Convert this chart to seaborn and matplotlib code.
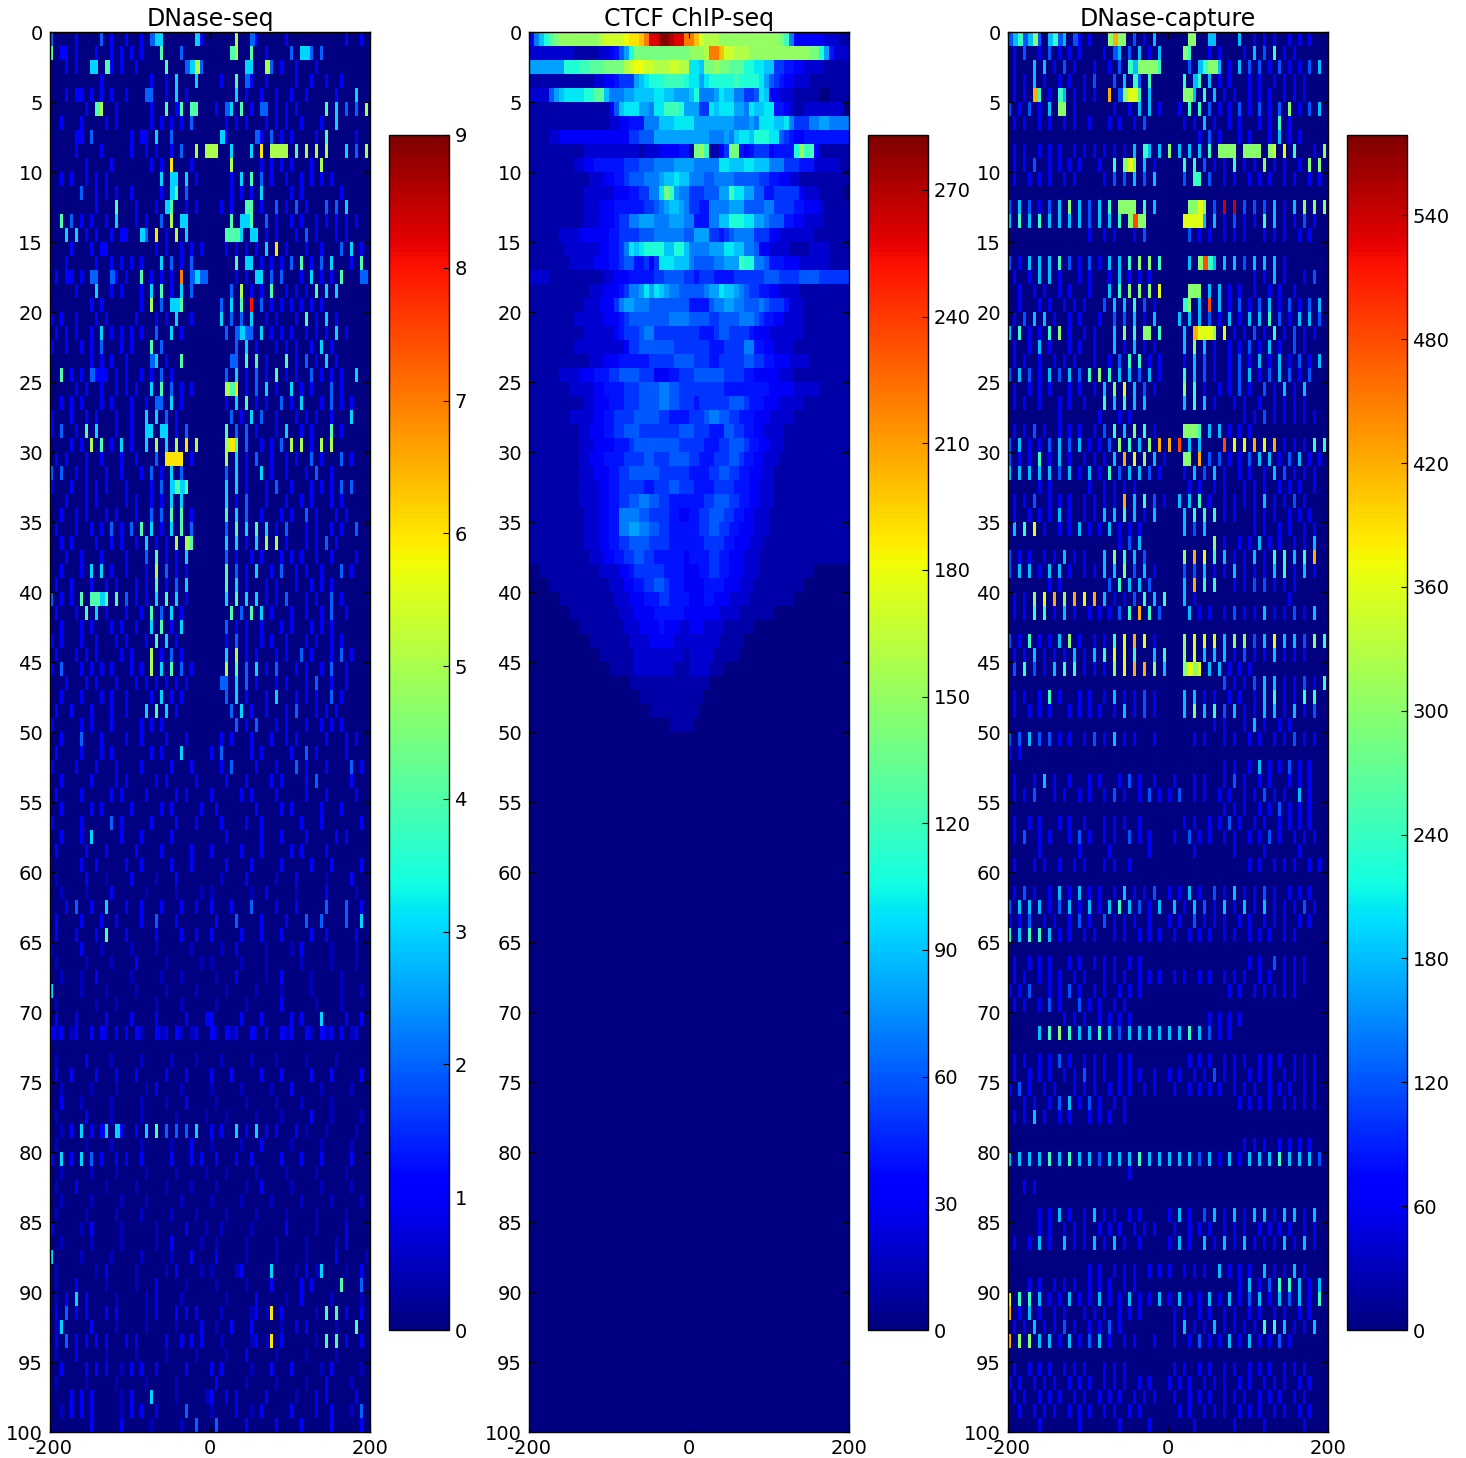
import numpy as np
import pandas as pd
import seaborn as sns
import matplotlib
matplotlib.use('Agg')
import matplotlib.pyplot as plt

titles = ['DNase-seq', 'CTCF ChIP-seq', 'DNase-capture']
vmaxes = [9, 283, 579]
cbar_ticks = [list(range(0, 10)), list(range(0, 271, 30)), list(range(0, 541, 60))]

# each row: left half / right half of the +-200 window, value read by eye per bin
# . = 0, : = half a unit, digits = units
dnase_seq = [
"2....1....2.1..1..1.233......31. .....5..21.....1...........1..1.",
"4.11.1...1..1.1.1.1...4...2..... ....45..4..1....2.332.2.........",
"...1.1..33.41.1..1.....4...2352. .......33..52.1..1...1..........",
"..........1.........1..1.3...3.. ..1..4.21..1.....1..1..1..1.....",
"...1.11.1.1.1..1...22..1.3.1.... .....3.1..1..1..1..1.....1...3..",
".......1.45..1......1..4.14.44.. .1.23.4.1.22.1.1.1.....4.3.2.2.52",
"..1...1....1.1......1.1.1.1.2... ...1.1.1...1.1.1..1...1..3......",
".....11.2.......1.11.3..2....... ..31.....21.2.1.1....1.4.....1..",
".....1....1.....1..1.1..1.2..5.5 55..3...3.6.5555.4.5.5.5...3.2.5",
".......1....1.......1.1.6...1... ....5.....1.1.1.1...1.5.........",
"..1.1..1.1.1..........3.33.3.1.. ....1.3.4.2.1..1..1.1.1.1.......",
"......2..1.1.1..1.....1.34.2.... ....1.1.1.3.....1.1.......1.....",
".........1...4...1...1.34..1.1.. ..1.1..44.1..2.1.2.1...2.2.3....",
"..4.2.1.1..1.3...1.1..2.5.33.... ....4.334..2.1..1.1..1.1.1.1.1..",
"...3.3.1.1..1.11..32.6.1.5.3.... ...4443.33.1.1...1.2.1...1.1....",
"....1...1.11.........1.1..1.1.1. ...1.1.1.1.3.6.1...1..1...2.3.1.",
"...1.....1..1.1.1.1...3.2.1.2... .....4.33.1.1.1.2.4.1.2.3...1.4.",
".1.11.1.22..21.1..4.1.1.1.7.2322 .....1.1.33.2.2...1.3.1.1.4...22",
".....1...3..1.1...1.3.4.1.3.2... ....2.5.1.1.4..1.1.1.4.3.3......",
"........1.1.......1.5.2.334..... ..2.3.4.8.2.1.1.1.1.1.1.........",
"1.1..1...1.1.....1...1.1.3..1... ..3.2.2.3..1.1...1.4.1.3.1......",
".1.1.1..1.3.1.1.1.1..2..3.1..... ...2.2322.3.1.1.1..1.1.1.3.1....",
"1..1..1.1.2...1.1...4.2......... .....2.3.1...1.1.1..1.3.1.......",
"........1.1.1..1....23.1..4..... ....22.4.4.1...4.1.2.1.3.1......",
"..4.1.1.2111.1.1..1.1.2.1....... ...2.3.1.2.1.4.1.1..2.1.1.1..3..",
".....1.1..1..1.1.1..3.4.2.1.1... ...546.1.2.3.1..3.1.1...2.1.....",
"..1.1.1...1.1...1..1.22.3.1..... ...1.3.4.1.1..2.1.3...1.2.1.1...",
"1...1..1.1...1..1..3.3.2.1...... ....2.1.3.2..1...1.1.1..1...3...",
"1.2..1.4.3...1..1..33.33.1.2.... ...4.2.2.1...1.3..1.1...4.1.....",
"....1.1.5.4.1.3.1..3.5.3.5.6.5.. ...564.2..1.1.2.5.5.1.5.5.......",
".1.1...1..1...1..1...2.6666.1... ...5.3.1.2..1..1.1..2.1...2.1...",
"2.2..1.1...1..1...1.2.1.3.2..... ...2.3.1..3.1..1...1.2..1.......",
"1...1..1.1.1...1....1.2.3434.... ...3.3.1...1.2..1...1.1.1.2.2...",
"...1...1.1.....1.1..1.1.3.3..... ...3.1.2...1...1..1.1...1.1.....",
"..1..1.1...1.1...1..2.2.4.4.1... ...4.3.2..1...1.1..2.1...1.1....",
".1...1..1.1.2.1.2.4.3.1.3.4.2... ...2.4.3.4.3.1.2...1.1..1.1..2..",
"..1.1....1..1.1..1.3.1.1.5.54... ...3.3.1.3.5.5.1...1.1.2.1......",
"...1..1...1....1...2.4.1.1.3.... ...2.1..1.1...1.1.1..1..1....1..",
"..1...1.3.3.1..1...1.5.2.1.1.... ...4.2.1.3..1.2..1.1..1...2.1...",
".1..1...1..1.1...1.1.4.1.2.3.... ...4.3.1...1.1...1..1.1.1.......",
"2.1.1.4.4434.4.2.1.1.3.4.3.1.... ...3.4.3.3.1.1.2...1.1..2.1.....",
".1...1.4.3.1...1..1.4.2.3.1..... ....4.2.4.3.1...1..1..1.2..1....",
"..1...1.1...1.1..1..3.4.1.3..... ...2.1.1..1...1.1...1.1.1.......",
"1.1...1..1...1.1...1.4.3.1...... ...1.2.1..1.1..1...1.1..1.1.....",
".1...1.1.1....1.1...5.1.2.1..... ...3.5.1.1...1.1..2.1...1.2.1...",
"1.2...1.1.1.1...1.1.5.3.4.2.1... ...5.4.2.3.1.2...1.1..1.2..1....",
"...1...1.1...1...1.1.1.1.1.1.... ..22.3.2.1...1.1...1.2..1..1....",
"..1...1...1.1..1....1.3.1.1..... ...2.3.1...1.3...1.1.1..2.1.....",
".1..1...1...1..1...3.4.3.1...... ....2.3.1..1...1.2...1.1.1......",
"1.....1.1...1.....1.1.1......... .....2.1.2...1.1...1..1.1.1.....",
"..1...2...1....1..1....1...1.... ..1.1...1...1..1.1.....1...1.1..",
".1....1...1.1.......1.1...3..... 1.2.....1.1.....1..2.1.....1....",
"1....1...1...1....1.....1...1... ..1.2....1...1...2.1...1....2.1.",
"..1.....1....1.1.....1.1.....1.. ...1...1....1.1....1.2......1...",
".1....1.....1.1....1.....1.1.... 1.....1.1....1.....1...1.....1..",
"..1.....1.1.....1.....1.1.....1. .1.......1....1.1.....1...1.....",
"1.....1.....2.1.....1....1...1.. ..1....1..1.......1...1.......1.",
"..1...1.3.....1...1.....1....... ...1......1...1....1.....1.1....",
".1.....1...1.....1....1.....1... 1.....1...1.....1.1....1........",
"......1..1.....1..1.....1...1... ...1....1.....1.....1...1.....1.",
".:.....1...:....1....:...1...... ..:....1.....:...1.....:....1...",
"..:....:....1......:.....:....:. :.......:..1.....:.....1.....:..",
"...1.2..1..3...1..1...1...1..1.. 1...1...2....1...1.....2...2..1.",
".1....1...1..1....1..2...1...... .1...2....1....1...2..2....2..3.",
".1...1...1.4...1.....1....1..1.. 1.....1...1...1.....1..1.....1..",
":.....1...:.....:....:......:... ..:..1.....:....:.1.....:....:..",
".:.....:....:....1.....:......:. :.....:....:......:.....:....:..",
"..:...:..1......:.....:...:..... .:...1.....:..1.....:.....:.....",
"3.....:....:.....:.....:.....:.. ...:.....:....:.....:.....:...:.",
".:.......:...:.......:....:..... .:.....:......1......:....:.....",
".1...1.....1....1....1.....1...1 1.....1...1.....1.1...3....1..1.",
"1:1.:1..1.1:.1.1.1:..1:1.1:.:1.. 1:.1:1..1:.1..1:1..1:.1:1.1.:1..",
"................................ ................................",
".:.....1....:.....:.....:....:.. ..:.....:....:.....:.....:......",
".1..1....1...1...1.....1...1.... 1...1.....1...1.....1...1.....1.",
"..:.....:....:.....:.1....:..... :.....:.....:...1.....:.....:...",
"..1...:.....:.....:....:...1.... .:.....:.....:....:.....:.......",
".:.....1....:.....:......:.....: ...:.....:....:.....1...:.....:.",
"..:.1.3.1.13.31..1.3.4.2.2.2.3.. 1.1..3.1.3.1.1...1.:...:.....:..",
".:.....:....:.....:.....:...1... :.....:...1.....:.....:.....:...",
"1.3.1.3.2.1..1.1..1.....1...1.1. .1...1..1.....1...1...1.....1...",
"..:.....:....:.....:.....:.....: ...:.....:.....:.....:.....:....",
".:...1.....:.....:.....:....:... .:.....:..1.....:.....:.....:...",
"..:.....:.....:....:......:..... :.....:.....:.....:.....:.....:.",
".:.....:.....:....:.....:....:.. ...:.....:.....:.....:.....:....",
"1.....:.1.....:......:.....1...: ..:.....:......1.....:.....1....",
"..:.....:.....:......:..1.....:. .:.....:.....:.....:.....:.1....",
"3.....:.....:.....:.....:...1... .1.....:.....:.....:.....1.....:",
".:.......:.1.....:.....:.1....:. :....:1.....3....:.1.:3....:..1.",
".:...1.....:.....:...1.....:.... .:.....:....1.....1.1.....4...2.",
".:.1.3.1.....:.....:.1....:..... ...:.....1.....:..1.....:.....:.",
".1.2.1.1...1.1.....:.1...1.1.1.. ..:.....:1.:6.1......:.4.4.1..1.",
".:3.....1....:.....:.....:....1. .:..1...1.....:..1.1.....:...4..",
".1.2.1.1.1.1...1.1.....1..1.1.1. ..:.....:1.:6.1......:.4.4.1..1.",
".:...1.....:.....:.....:.....:.. ...:...1.....:.....:.....:......",
"..1....1.1.1..:.1.1..1.....1.... 1.1.....:...1...1.....:.1.....:.",
".:.....:.....:.....:.....:...... .1.....:.....:.....:...1....:...",
"....1.1.1.....:.1...3....:.....: 1..1.1.....1.....:...1.1.....1..",
"..:.1.1.1.....:.1.1..1.....2.... :....1..:.1.....1....1..1...:.2.",
"........1.....1.....:.....:..2.. .2.....1.....1....1.....1.....1.",
]

# tens of counts, base 36 (0-9, a-s), left half runs out to the centre, right half from the centre
ctcf_chip = [
"379bdeffffffffghhhhijjkmqqssrqqm mkhgggffffffffffffec733333322211",
"22222222211111223468beeeeeeeeeee fffgmmkhhgggffffffffffffeeb84222",
"8888888bbbccdddeeeeghiihhggghhgg aa9eefeedddbbaa99554433222211111",
"11111111111112233455589abbbccccb aa8abbbbbcbbbba86543322211111111",
"2222689aaaabbdd9777889999aa99888 9b7778a9977556a93322211111001111",
"1111111111111111369aaa887aacccb8 8855a9aaa887a99aa44321122222222",
"11111111111111112233444777999aaa a8888888877787aaa99a755577887777",
"11112233333333333333556668888888 8888777879aa9bbbaa65433444444444",
"11111111111222222222221222333344 1efc1135ee43455534444bfcc3111111",
"11111111122334444445556667777888 877777aa999aa9997775554442222211",
"11111111111122233445666777899a99 77766777766666554433221111111111",
"11111111111222222333445577aec877 55566688caa88664455555322211111",
"11111111111222333444444556789987 55447777888666677555544333211111",
"11111111111222333455778887778887 74447799bbbaa8876664433222211111",
"11111122223333334455556667777776 68885545677775553322222221111111",
"11111112222222334457a9abbbb99bb9 7777888aa99776332222111122221111",
"11111111222223334456644535aaa999 7666677888cbb7764443332222221111",
"22221111111111122333444445566665 54555444455555566655556666555555",
"11111111111122233345778a8a987766 666788a9987655443322221111111111",
"11111111111222333578877766666666 44446778877666765554222111111111",
"11111111122222233345666666667777 66665566667776544332222111111111",
"11111111111222222345556775555555 55444566555543332222222111111111",
"11111111122222222223556666666555 55554445555774433222211111111111",
"11111111111122233344444455555666 65554455555665544333222211111111",
"11111122223334445566665553334455 56666665555443333322211111111111",
"11111111222223344445556666776655 55555554444444443333322222111111",
"11111111111223334445556666776655 54555555666544433322222111111111",
"11111111222223344555566666554444 55567766554443332222211111111111",
"11111111112233344556665555555566 65554446655443322221111111111111",
"11111111112223333444566666666655 55544455666544332221111111111111",
"11111111112233344445555665556666 55444555665443322211111111111111",
"11111111112223334455666666555555 44445566554433322111111111111111",
"11111111112222334455555445556655 54444555544433222111111111111111",
"11111111112222334455667766554444 44455666554433222111111111111111",
"11111111111222334477776655554433 44556665544332221111111111111111",
"11111111111222334477887766554444 44556655443332221111111111111111",
"11111111111222334455666655554444 44455554433322211111111111111111",
"11111111111122233445566554444443 44445544333222111111111111111111",
"111111111111222233455555544443 3344554433322211111111111",
"1111111111112223344556654443 33344443332221111111111",
"11111111111222333444554444 333443332222111111111",
"111111111122233334444443 33333322221111111",
"1111111112223333433322 3332222111111",
"11111111222233333222 22222211111",
"111111122222222221 2222211111",
"1111122222222111 2222111",
"111111111111 1111",
"1111111111 111",
"11111111 11",
"1111 1",
]

dnase_capture = [
"2342352.3423.21.1...5755.2.1.3.. ....55..33....3..1.1.1..1.1.1.",
".1.2..1.2.1.1.1....1.23.2.3.1.3. ...54...1.1....1.3.2.4.1.1.....",
".1...3.3.1.2.1...1..1.2.4355554. ....2.34553.1.3.2.2.1.2.1.1.2.3",
".1.1.3.1..1.1..1.2...2.3.42.4... ...4.34.3.1.1...1.1..1.1.1.1...",
".1.1.74.1.43.1.1.1..7.25664.3.. ...553.4.3.1.1..1.1.1..1.1.1..",
"2.1.2.1.3.55.1.......1..1.3.3.1. ..1.4.4.2.1.1.2.1.2.1.2.5.1.2.3",
".1.1..1.1..1.1..1...1.1..1.2.... ...1.1.3.1..1.1...1.1.4.1.......",
"................................ ......1.2.1...1.1...1.3.1.1.....",
".1.1..1.1.1..1.1.1.1.1.1.3.43.3. 5.3.3.3.4.5555.5555.56.6.4...1.55",
".1.1.2..1.1.1.1...1..4.565.3.1.. ...4.4.2.1.1.4.1.1.5.1.1..1.5.5",
".1..1.1.1..1.1.....1.2.2.3.2.3.. ...2.44.2..1.1..1.1.1..1.1..1.1",
"................................ ................................",
"2.3.2.1.2.3.5.3.2.3.4.5555.4.3.. ....5565.2.9.9.2.2.2.3.1.3.5.5.5",
"3.4.3.4.3.3.3.3.2.3.3.4.5855.... ...66663.3.1.2.1.1.4.3.1.1.2.1.",
"................1..1.1...1.2.... ....2.1.1..1.1.1...1.1.1..1.1..",
"................................ ................................",
"2.1.3.3.3.4.2.1.2.1.3.3.4.5.5.4. ....3.5843.3.3.2.3.3.3.1.......",
".1..1.3.3.1...1.1...1.3.1.1.1... .................1.1.3.1...1.2.",
"..1..1.1..1.1...1...3.4.5.5.5.6. ....555.3.3.1.1..1..1.1..1......",
"..1...1.1..1.1.1...2.3.3.4.2.1.. ...45.3.8.3.1.2.1.2.3.1.2.1.2.3.",
".1.2.3.3.1..1.1...1..2.2.3.1.3.. ..3.3.3.2.1.3.1.3.3.4.2.1.3.3.2.",
"3.4.1.1.4.5.1..1.1...3.5.4.55.4. ...3.76665.6.1.1.2.1.4.1.2.1.1.",
".1..1.3.1...1.1..1...3.1.3.1.1.. ...3.5.3.1..1.1.2.1.3.1..2.1...",
".1.1..1..1.1.1...1..1.2.4.4.1.1. ...1.3.2.1..1.2.1.3.1.3.1.2.1.3.",
"2.3.2.1.3.2.3.2.4.5.4.3.3.2.3.1. ...4.3.2.1..1.2.3.1.2.3.2.1.2..",
".1..1.1.1...1.1..1.3.5.6.3.2.1.. ...5.4.1..1.1.2.1..2.1.3.1.3...",
".1.1..1...1.1..1...4.3.4.3.3.... ...3.4.3.1...1.1..1..1.1.1.1...",
"..........1.......1...1.1....... ...............1.1.2.1.1.1.1.1.",
".1.1.2.1..1.1.1..1.2.4.3.5.4.1.. ...5554.3.3.1.1.1.............",
"2.3.1.1.2.3.2.3.1.1.2.5.4.3.5.7. 7.8.3.3....8.6.6.7.6.7.1.1.1.4.4",
"2.1.1.4.1.3.1..1.1.1.3.7.6.5.3.1 ...55.7.2.2.1.1.2.3.3.1.2.3.1.1",
"3.3.3.3.3.2.3.1.3.1.4.2.3.3.2.1. ...1.3.2.3.1..1.1..1.3.2.1.1.1.",
"......1.1.......1..1.1.1.1...... ....1.1..1.1...1.1.1..1.1.1..1",
".1.1.2..1.1.1..1.1.1.1.7.3.4.2.1 ..3.3.4.1..1.1.1.1.3.1.1.2.1...",
".1..1.1.1.3.1..1.1.3.3.4.3.1.3.. ...3.4.4.4.1.1...1.1.1..1.1.1..",
".3.4.6.1..1.1.3.1.1.3.1.1.1..... ...3.2.3.........1.1..1.1..1.1.",
"......................1.2.3..... .........5.1..1.1.3.1.1..1.1.3.",
"2.1.1..1.1.3.1.1...3.5.4.3.2.... ...5.7.6.4.3.1.1.3.1.4.4.3.4.7.",
"2.3.3.1.3.3.1..1.1.3.3.5.2.3.1.. ...2.2.3.1.1.3.1.1.1.3.4.1.3.1.",
"........1.1.........2.4.3.3.2... ...3.7.4.4...1.1.2.2.1.1.1.....",
".1.1.5.6.7.5.7.6.7.3.1.1.2.4.3.4 ...3.1..................1......",
".1.1.4.4.1.3.1..1.1.1.2.4.7.4.2. ....3.1.1..1.2.1.1.3.1.1.2.1.3",
"................................ ................................",
"2.1.4.1.1.3.5.1..1.1.4.6.7.6.1.. ...5.6.6.6.3.5.5.2.3.6.3.3.2.5.4",
".1.1.3.1.1.1.3.1.3.4.6.6.4...3.4 ...5.6.3.3.3.1.2.1.1.3.1.1.1...",
".2.4.2.1.3.4.4.1.1.1.5.6.7.7.5.3 ...5656.3.3.1.1.1.............",
"................................ ...........2.1.1.2.3.3.1.1.2.1.4",
".1.1..1.4.1...1.1..1.3.1.1.2.1.. ...3.3.1.1..1.1..1.3.4.1.1.4.4.",
".1..1.1.1...1.1.1.1..1.3.1.2.1.. ...3.5.3.4.2.3.1.1.3.3.1.3.1.2.",
"................................ .........1.1...1.3.1..1.1.......",
"2.2.3.2.2.1.1..1.2.1.3.1.1...1.. .....1.1...1.1..1.1..1.1.2.1.1.",
"1.1............................. ................................",
"................................ ...........1.1..1.3.1.1.2.1.1.",
".1...1.3.1..1...1.1...1.2.1..1.. .1...1.1...1.2.1..1.1...1.1.1.",
".1.1.2...1.1..1.1..1.2.1..1.2.1. 1.2..1.1..1.1..1.1.2.1.1..3.1.",
"................................ ...........1.1.1..1.1.2.1.1.1.",
".1..1.1...1.1..1...1.1.1..1.... ...1.1..1.1.2.1..1.1..1.1.1.1..",
".1.2..1.1...1.2.1..1.1..2.1.1... .1..2.1.1..1.1..1.1.2.1..1.1.1.",
"......1.......1.....1.......1... .....1.......1.....1......1.....",
".1...1.1..1..1.1...1.1..1....... ................1.1..1.1.1..1.1.",
"................................ ................................",
".1.2.1..1.3.1.3.1.1..1.3.1.1.2.. 1.1.3.1..2.1.3.1.1.2.1..1.1.1..",
"2.3.3.3.1.2.3.1.3.1.3.4.3.2.1.3. .3.1.3.2.1.3.1.3.1.3.1.1.1.2.1.",
"1.1.2..1.1..1.2.1..2.1.1.1..1... 1.1..2.1.1.1..1.1..1.1.1..1.1.",
"4.3.4.4.3.1.1..1.1...1.1..1.1.1. .1..1.1.1..1.1..1.1.1..1.1...",
"................................ ................................",
".1..1.1.1...1.1..1.1.1..1.1..... ................1.1..2.1.1.1...",
".1.1..1.1.1..1.1...1.1.1..1.1.1. .1.1..1.1..1.1.1..1.1..1.1.1...",
"1.1.2...1.1.2.1..1.1..1.1.1..... ............1.1..1.1.1.1.1.....",
".1.1..1.2.1...2.1.1..1.1........ ................................",
"...........1.1.1..1.1.1.1....... ........1.1.1.1.................",
"......3.4.5.4.3.3.4.3.2.3.3.3.3. 3.3.4.3.2.1.1...................",
"................................ ................................",
".1.1..1.1.2.1..1.1.1..1.1....... ....1.1.1..1.1.1..1.1.1..1.1.1.",
".1..1.1.1..1.1.2.1.1..1.1.1..1.. 1.1..1.1.2.1.1..1.1.1..1.1.1.1.",
"1.2.1..1.1...1.1.1..1.1.1..1.1.. .1..1.1.1.1..1.1.1..1.1.1..1.1.",
"...1.1..1.2.3.1.2.1..1.1........ ..............1.1.1.1..1.1.1.1.",
".1.1.3.1..1.1...1.1.1..1........ ................................",
"................................ ................................",
"................................ ...............1.1.1..1.1.1.1.",
"3.3.3.3.4.3.4.3.3.2.3.3.3.4.3.3. 3.3.3.2.3.1.3.1.3.3.3.4.3.3.3.2.",
"........................1....... ................................",
"...1.1.......................... ................................",
"................................ ................................",
"......1.1.3.1..1.3.1.1..1.1..... 1.3.1..2.3.1.3.1.3.3.1.3.3.1.3.",
"......1.1..1.1.1..1.1.1..1.1.1.. .1..1.1.1..1.1.1..1.1.1.1..1.1.",
".1..1.3.1..3.1.1.3.1.3.1..1..... 1.3.1..3.1.3.1.3.1.1.1.3.1.3.1.",
"................................ ................................",
"................1.1..1.1.1..1.1. 1..1.1.1..3.1.1.1..3.1.1.3.1...",
"....1.1..1.1.1..1.1.1..1.1...... ..............1.3.1.2.4.4.3.1.3.",
"6.4.4.3.1.1.3.1.1.3.1.1.3.1.1.3. 1.3.1.1.3.1.3.1.2.3.1.3.2.3.1.4",
"7.1.3.1..1.1...1.1.1..1.1.1..... .1.1..1.1..1.1..1.1..1.1..1.1..",
".1.1.3.1.1.2.1..1.1.2.1......... .1.3.1.1.3.1.1.1.1.4.4.3.1.1.3.",
"7.5.5.3.3.1.3.1.2.3.1..1.1...1.. .1..1.2.1.1.3.1.3.1.1.2.1......",
"................................ ................................",
".1..1.1.1..1.1.1...1.1.1........ .1.1..1.1..1.1..1.1.1..1.1.1...",
"1.1..1.1.1..1.1.1..1.1.1..1.1... 1.1.1..1.1.1..1.1..1.1.1..1.1.",
".1.1..1.1.1..1.1..1.1.1..1.1.1.. .1..1.1.1..1.1.1..1.1.1..1.1...",
"..1..1.1.1..1.1.1..1.1..1.1..... ..1.1..1.1.1..1.1.1..1.1..1.1..",
"......1.......1.......1.....1... .....1.......1.....1.......1....",
]

unit_seq = 1.0
unit_ctcf = 10.0
unit_cap = 60.0


def parse_digits(rows, unit):
    # bins are wider than the real stripes, so a lone value only fills half of its bin
    out = []
    for r in rows:
        left, right = r.split()
        row = left.ljust(32, '.')[:32] + right.ljust(32, '.')[:32]
        vals = [0.5 * unit if c == ':' else (0.0 if c == '.' else int(c) * unit) for c in row]
        fine = []
        for i, v in enumerate(vals):
            nxt = vals[i + 1] if i + 1 < len(vals) else 0.0
            fine += [v, v if nxt > 0 else 0.0]
        out.append(fine)
    return pd.DataFrame(out)


def parse_base36(rows, unit):
    out = []
    for r in rows:
        left, right = r.split()
        left = left.rjust(32, '0')[-32:]
        right = right.ljust(32, '0')[:32]
        out.append([int(c, 36) * unit for c in left + right])
    out += [[0.0] * 64 for _ in range(100 - len(out))]
    return pd.DataFrame(out)


plt.rcParams['font.family'] = 'DejaVu Sans'
fig = plt.figure(figsize=(14.66, 14.58), dpi=100)
W, H = 1466.0, 1458.0
panels = [parse_digits(dnase_seq, unit_seq), parse_base36(ctcf_chip, unit_ctcf), parse_digits(dnase_capture, unit_cap)]
lefts = [50, 529, 1008]
cb_lefts = [389, 868, 1347]

for k in range(3):
    ax = fig.add_axes([lefts[k] / W, 1 - 1432 / H, 320 / W, 1400 / H])
    cax = fig.add_axes([cb_lefts[k] / W, 1 - 1330 / H, 60 / W, 1195 / H])
    df = panels[k].iloc[:100]
    sns.heatmap(df, ax=ax, cbar_ax=cax, cmap='jet', vmin=0, vmax=vmaxes[k],
                xticklabels=False, yticklabels=False)
    n = df.shape[1]
    ax.set_xticks([0, n / 2, n])
    ax.set_xticklabels(['-200', '0', '200'], fontsize=14, rotation=0)
    ax.set_yticks(np.arange(0, 101, 5))
    ax.set_yticklabels([str(i) for i in range(0, 101, 5)], fontsize=14, rotation=0)
    ax.set_ylim(100, 0)
    ax.tick_params(direction='in', top=True, right=True, length=4, width=0.8, pad=5)
    ax.set_title(titles[k], fontsize=17, pad=4)
    for s in ax.spines.values():
        s.set_visible(True)
        s.set_linewidth(1)
    cbar = ax.collections[0].colorbar
    cbar.set_ticks(cbar_ticks[k])
    cbar.ax.tick_params(direction='in', length=4, width=0.8, labelsize=14, pad=4)
    cbar.outline.set_visible(True)
    cbar.outline.set_linewidth(1)

fig.savefig('out.png', dpi=100)
